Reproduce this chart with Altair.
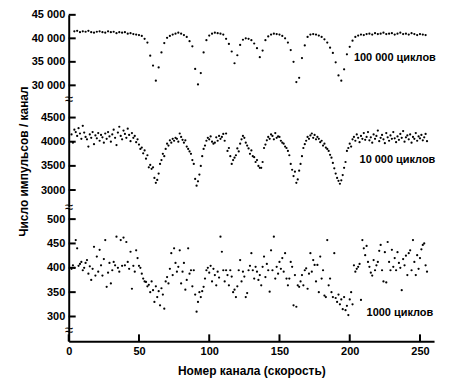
import altair as alt
import pandas as pd

FONT = "Liberation Sans"

# x axis
x_domain = [0, 260]
x_ticks = [0, 50, 100, 150, 200, 250]

# top series: 100 000 cycles (every 2nd channel, 4..254)
top_channels = list(range(4, 255, 2))
top_values = [
    41500, 41600, 41300, 41500, 41400, 41600, 41300, 41200, 41400, 41500,
    41300, 41200, 41500, 41300, 41400, 41100, 41300, 41200, 41300, 41000,
    41100, 40900, 40800, 40700, 40500, 39900, 39100, 36300, 34200, 31000,
    33800, 37000, 39000, 40100, 40500, 40800, 41000, 41200, 41000, 40700,
    40300, 39400, 38300, 33500, 30200, 32600, 37000, 39600, 40600, 41000,
    41200, 41100, 41000, 40800, 39900, 38800, 37200, 34700, 36400, 38600,
    39700, 40000, 39900, 39600, 38900, 37900, 36000, 37400, 39600, 40400,
    40800, 41000, 40900, 40800, 40500, 40000, 39100, 37500, 35000, 30700,
    31600, 35800, 38500, 40300, 40800, 40900, 40800, 40600, 40300, 39800,
    39100, 38000, 36900, 34900, 32100, 31000, 33400, 36600, 38200, 39500,
    40300, 40600, 40800, 40700, 40900, 41000, 40800, 41100, 40900, 41000,
    41200, 40900, 41000, 41100, 40800, 41000, 41200, 40900, 41000, 40800,
    41100, 40900, 40700, 40900, 40800, 40700,
]

# middle series: 10 000 cycles (channels 2..255)
mid_channels = list(range(2, 256))
mid_values = [
    4150, 3980, 4250, 4200, 4120, 4280, 4170, 4060, 4330, 4190,
    4100, 4050, 3900, 4150, 4080, 4200, 3950, 4130, 4070, 4180,
    4020, 4140, 4090, 3980, 4170, 4060, 4200, 4110, 4000, 4150,
    4250, 4080, 3930, 4190, 4310, 4120, 4050, 4230, 4160, 4080,
    4270, 4140, 4010, 4180, 4080, 4120, 3990, 4050, 3940, 3850,
    3880, 3760, 3820, 3650, 3720, 3470, 3520, 3440, 3470, 3250,
    3150, 3210, 3340, 3540, 3620, 3750, 3700, 3850, 3960, 3920,
    4030, 3980, 4060, 4020, 4080, 4060, 4000, 4170, 4100, 4040,
    3980, 4030, 3900, 3850, 3800, 3750, 3620, 3540, 3230, 3090,
    3180, 3320, 3500, 3700, 3850, 3920, 4020, 4080, 4050, 4110,
    4000, 3960, 3980, 4090, 4020, 4120, 4060, 4100, 4160, 4020,
    4170, 3810, 3870, 3700, 3540, 3620, 3670, 3720, 3860, 3800,
    3960, 4050, 4120, 4080, 3980, 3920, 3860, 3750, 3820, 3700,
    3680, 3580, 3620, 3500, 3460, 3460, 3580, 3870, 3940, 4030,
    4100, 4060, 4150, 4120, 4050, 4180, 4080, 4110, 4100, 4020,
    3980, 3960, 3900, 3870, 3810, 3720, 3540, 3420, 3290, 3380,
    3150, 3220, 3400, 3540, 3700, 3870, 3950, 4020, 4100, 4060,
    4130, 4170, 4080, 4140, 4050, 4100, 4060, 3990, 4020, 3920,
    3960, 3880, 3850, 3810, 3730, 3670, 3560, 3450, 3340, 3250,
    3190, 3130, 3200, 3310, 3460, 3580, 3810, 3870, 3960, 3900,
    4050, 4100, 4020, 4150, 4080, 3990, 4120, 4060, 4180, 4040,
    4100, 4200, 4030, 4090, 3980, 4150, 4060, 4120, 4230, 4010,
    4080, 4140, 4050, 3970, 4180, 4090, 4020, 4130, 4060, 4200,
    4070, 3990, 4110, 4040, 4160, 4080, 4220, 4000, 4090, 4130,
    4050, 4150, 3980, 4100, 4060, 4180, 4020, 4110, 4070, 4140,
    4030, 4090, 4160, 4010,
]

# bottom series: 1000 cycles (channels 2..255)
low_channels = list(range(2, 256))
low_values = [
    398, 405, 400, 457, 440, 404, 408, 412, 395, 400,
    410, 416, 388, 403, 375, 398, 443, 384, 423, 392,
    437, 405, 384, 418, 457, 361, 390, 410, 368, 395,
    412, 405, 464, 400, 392, 457, 404, 462, 405, 453,
    412, 398, 433, 357, 404, 392, 436, 420, 404, 400,
    388, 378, 372, 371, 362, 365, 350, 372, 354, 330,
    362, 340, 352, 323, 358, 345, 316, 372, 381, 368,
    398, 430, 385, 440, 410, 392, 402, 436, 368, 392,
    410, 355, 375, 440, 388, 395, 362, 395, 345, 310,
    330, 350, 340, 352, 361, 378, 395, 400, 390, 404,
    372, 398, 385, 364, 392, 380, 464, 433, 395, 372,
    395, 385, 364, 395, 382, 350, 355, 340, 362, 395,
    416, 372, 392, 382, 340, 348, 395, 404, 430, 395,
    378, 402, 392, 375, 385, 364, 402, 423, 381, 408,
    395, 351, 436, 395, 464, 378, 402, 388, 412, 398,
    420, 392, 430, 378, 364, 378, 412, 402, 323, 385,
    320, 364, 361, 372, 385, 364, 395, 399, 357, 388,
    430, 392, 416, 406, 372, 406, 350, 423, 378, 395,
    343, 340, 457, 364, 378, 350, 340, 430, 338, 330,
    345, 325, 335, 315, 340, 313, 322, 303, 335, 350,
    325, 405, 392, 398, 402, 408, 334, 457, 440, 426,
    445, 412, 402, 390, 384, 416, 395, 405, 412, 435,
    447, 395, 372, 432, 370, 453, 412, 395, 437, 402,
    420, 395, 432, 410, 400, 354, 418, 405, 425, 385,
    430, 436, 395, 457, 412, 385, 426, 398, 420, 438,
    447, 450, 405, 392,
]

top_ticks = [30000, 35000, 40000, 45000]
mid_ticks = [3000, 3500, 4000, 4500]
low_ticks = [300, 350, 400, 450, 500]

top_domain = [27000, 45000]
mid_domain = [2650, 4875]
low_domain = [249, 525]

series_labels = ["100 000   циклов", "10 000   циклов", "1000   циклов"]
label_channels = [203, 207, 212]
label_levels = [35900, 3625, 308]
break_levels = [27000, 2650, 273]

y_title = "Число импульсов / канал"
x_title = "Номер канала (скорость)"

W = 367


def panel(channels, values, domain, ticks, height, label, lab_x, lab_y,
          brk_level, label_expr=None, title=None, x_axis=False):
    df = pd.DataFrame({"ch": channels, "v": values})
    xs = alt.Scale(domain=x_domain, nice=False, zero=False)
    ys = alt.Scale(domain=domain, nice=False, zero=False)
    yax_kw = dict(values=ticks, ticks=False, grid=False, labelPadding=4)
    if label_expr:
        yax_kw["labelExpr"] = label_expr
    else:
        yax_kw["format"] = "d"
    if title:
        yax_kw.update(title=title, titleFontSize=12, titleFontWeight="bold",
                      titlePadding=10, titleY=62)
    else:
        yax_kw["title"] = None
    yaxis = alt.Axis(**yax_kw)
    if x_axis:
        xaxis = alt.Axis(values=x_ticks, ticks=False, grid=False, labelFlush=False,
                         labelPadding=4, title=x_title, titleFontSize=12,
                         titleFontWeight="bold", titlePadding=9)
    else:
        xaxis = None

    def X():
        return alt.X("ch:Q", scale=xs, axis=xaxis)

    def Y():
        return alt.Y("v:Q", scale=ys, axis=yaxis)

    pts = alt.Chart(df).mark_circle(size=5, color="black", opacity=1).encode(
        x=X(), y=Y())
    yt = alt.Chart(pd.DataFrame({"v": ticks})).mark_rule(
        color="black", strokeWidth=2).encode(
        y=Y(), x=alt.value(0), x2=alt.value(7))
    txt = alt.Chart(pd.DataFrame({"ch": [lab_x], "v": [lab_y], "t": [label]})).mark_text(
        align="left", baseline="middle", font=FONT, fontSize=11,
        fontWeight="bold", color="black").encode(x=X(), y=Y(), text="t:N")
    brk = alt.Chart(pd.DataFrame({"ch": [0], "v": [brk_level]})).mark_text(
        text="≈", fontSize=15, color="black", baseline="middle",
        align="center").encode(x=X(), y=Y())
    layers = [pts, yt, txt, brk]
    if x_axis:
        xt = alt.Chart(pd.DataFrame({"ch": x_ticks})).mark_rule(
            color="black", strokeWidth=2).encode(
            x=X(), y=alt.value(height), y2=alt.value(height - 7))
        layers.append(xt)
    return alt.layer(*layers).properties(width=W, height=height)


top = panel(top_channels, top_values, top_domain, top_ticks, 85,
            series_labels[0], label_channels[0], label_levels[0], break_levels[0],
            label_expr="replace(format(datum.value, ','), ',', ' ')")
mid = panel(mid_channels, mid_values, mid_domain, mid_ticks, 108,
            series_labels[1], label_channels[1], label_levels[1], break_levels[1],
            title=y_title)
low = panel(low_channels, low_values, low_domain, low_ticks, 135,
            series_labels[2], label_channels[2], label_levels[2], break_levels[2],
            x_axis=True)

chart = alt.vconcat(top, mid, low, spacing=0, bounds="flush").properties(
    padding={"left": 9, "top": 0, "right": 0, "bottom": 5}
).configure_view(stroke=None).configure_axis(
    domainColor="black", domainWidth=2, labelColor="black", labelFont=FONT,
    labelFontSize=11, labelFontWeight="bold", titleFont=FONT, titleColor="black",
)

chart.save("out.html", embed_options={"renderer": "svg", "actions": False})
